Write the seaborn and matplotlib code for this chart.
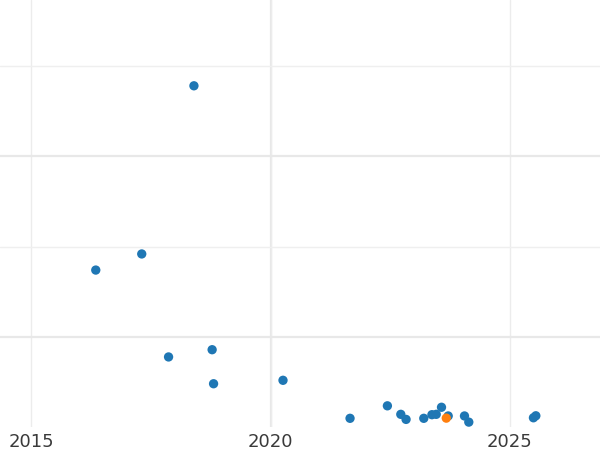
import pandas as pd
import matplotlib.pyplot as plt
import seaborn as sns
from matplotlib.ticker import MultipleLocator

# Data
years = [2016.35, 2017.31, 2017.87, 2018.40, 2018.78, 2018.81, 2020.26,
         2021.66, 2022.44, 2022.72, 2022.83, 2023.20, 2023.37, 2023.46,
         2023.57, 2023.71, 2024.05, 2024.14, 2025.49, 2025.54, 2023.67]
values = [137.0, 145.9, 89.0, 238.8, 93.0, 74.2, 76.1,
          55.1, 62.0, 57.3, 54.5, 55.1, 57.1, 57.3,
          61.2, 56.4, 56.4, 53.0, 55.4, 56.5, 55.2]
groups = ["other"] * 20 + ["highlight"]

df = pd.DataFrame({"year": years, "value": values, "group": groups})

sns.set_theme(style="white")
fig = plt.figure(figsize=(6, 4.5), dpi=100)
ax = fig.add_axes([0, 23 / 450, 1, 427 / 450])

sns.scatterplot(data=df, x="year", y="value", hue="group",
                palette={"other": "#1f77b4", "highlight": "#ff7f0e"},
                s=45, linewidth=0, legend=False, ax=ax, zorder=3)

ax.set_xlim(2014.35, 2026.88)
ax.set_ylim(50.3, 286.2)

ax.xaxis.set_major_locator(MultipleLocator(5))
ax.yaxis.set_major_locator(MultipleLocator(100))
ax.yaxis.set_minor_locator(MultipleLocator(50))

# major/minor grids: major darker, minor lighter
ax.grid(which="major", axis="y", color="#e8e8e8", linewidth=1.6)
ax.grid(which="minor", axis="y", color="#efefef", linewidth=1.0)
ax.grid(which="major", axis="x", color="#ececec", linewidth=1.0)
ax.set_axisbelow(True)

# vertical line at 2020 a bit stronger
ax.axvline(2020, color="#e8e8e8", linewidth=1.6, zorder=0)

ax.set_xticks([2015, 2020, 2025])
ax.set_xticklabels(["2015", "2020", "2025"])
ax.tick_params(axis="x", which="both", length=0, labelsize=13,
               labelcolor="#3a3a3a", pad=4)
ax.tick_params(axis="y", which="both", length=0, labelleft=False)
ax.set_xlabel("")
ax.set_ylabel("")
for sp in ax.spines.values():
    sp.set_visible(False)

fig.savefig("out.png", dpi=100)
